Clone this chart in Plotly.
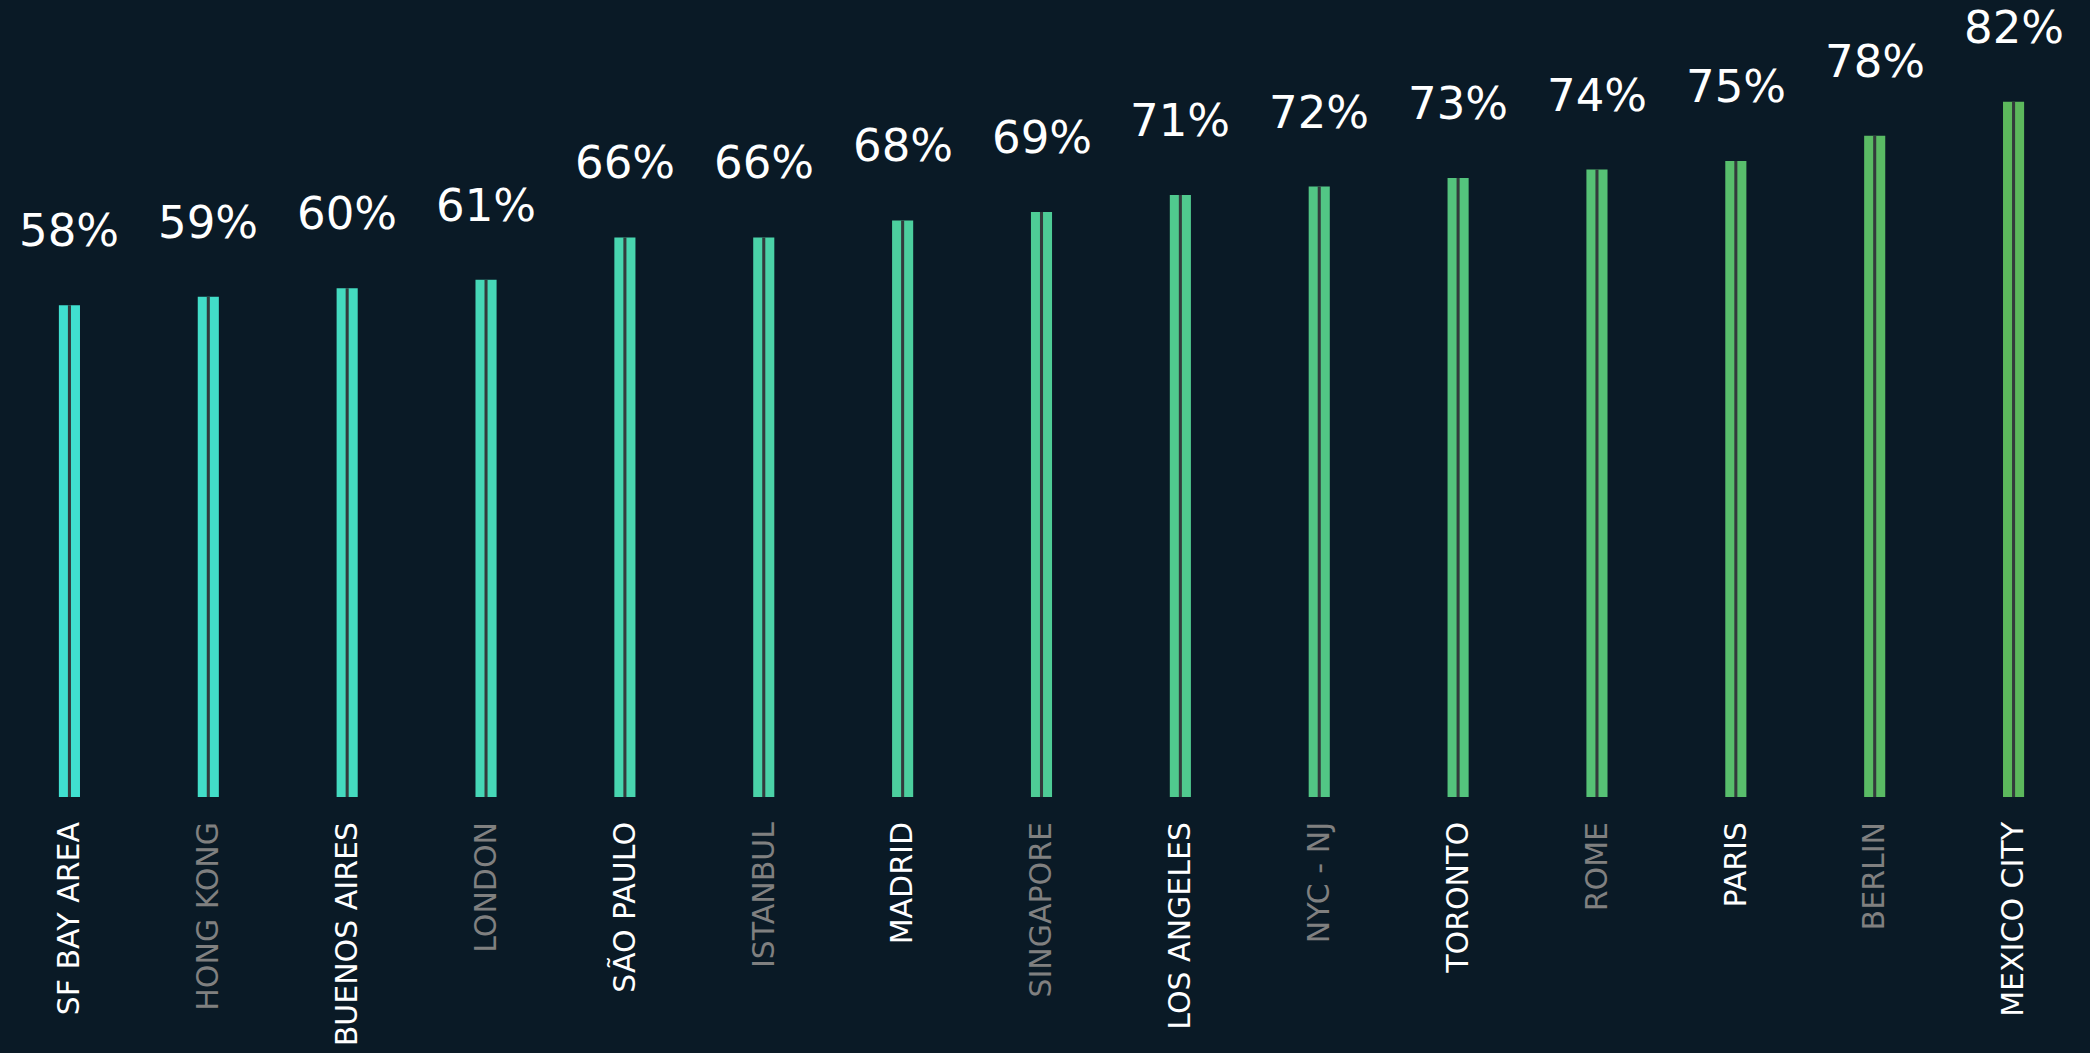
import plotly.graph_objects as go

cities = ["SF BAY AREA", "HONG KONG", "BUENOS AIRES", "LONDON", "SÃO PAULO", "ISTANBUL",
          "MADRID", "SINGAPORE", "LOS ANGELES", "NYC - NJ", "TORONTO", "ROME", "PARIS",
          "BERLIN", "MEXICO CITY"]
values = [58, 59, 60, 61, 66, 66, 68, 69, 71, 72, 73, 74, 75, 78, 82]
value_labels = [f"{v}%" for v in values]
bar_colors = ["#40e0d0", "#42ddc8", "#44dabf", "#46d7b7", "#48d5af", "#4ad2a7", "#4ccf9e",
              "#4ecc96", "#50c98e", "#52c685", "#54c37d", "#56c175", "#58be6c", "#5abb64",
              "#5cb85c"]
label_colors = ["#ffffff" if i % 2 == 0 else "#808080" for i in range(len(cities))]

BG = "#0a1a26"
FONT = "DejaVu Sans"

fig = go.Figure()
fig.add_trace(go.Bar(x=cities, y=values, width=0.152, marker=dict(color=bar_colors, line=dict(width=0)),
                     hoverinfo="skip"))
fig.add_trace(go.Bar(x=cities, y=values, width=0.022, marker=dict(color="#333a3c", line=dict(width=0)),
                     hoverinfo="skip"))

for c, v, t in zip(cities, values, value_labels):
    fig.add_annotation(x=c, y=v, text=t, showarrow=False, yanchor="bottom", yshift=46,
                       font=dict(family=FONT, size=45, color="#ffffff"))

ticktext = [f'<span style="color:{col}">{c}</span>' for c, col in zip(cities, label_colors)]

fig.update_layout(
    width=2090, height=1053,
    paper_bgcolor=BG, plot_bgcolor=BG,
    barmode="overlay", showlegend=False,
    margin=dict(l=0, r=7, t=0, b=256),
    xaxis=dict(tickmode="array", tickvals=cities, ticktext=ticktext, tickangle=-90,
               tickfont=dict(family=FONT, size=30, color="#ffffff"), showgrid=False,
               zeroline=False, showline=False, ticks="", ticklabelstandoff=18),
    yaxis=dict(range=[0, 94], visible=False, showgrid=False, zeroline=False),
)

fig.write_html("out.html", config={"displayModeBar": False})

# remove the default page margin so the figure fills the window
with open("out.html", "r", encoding="utf-8") as f:
    html = f.read()
html = html.replace("<head>", "<head><style>html,body{margin:0;padding:0;background:#0a1a26;overflow:hidden}</style>", 1)
with open("out.html", "w", encoding="utf-8") as f:
    f.write(html)
